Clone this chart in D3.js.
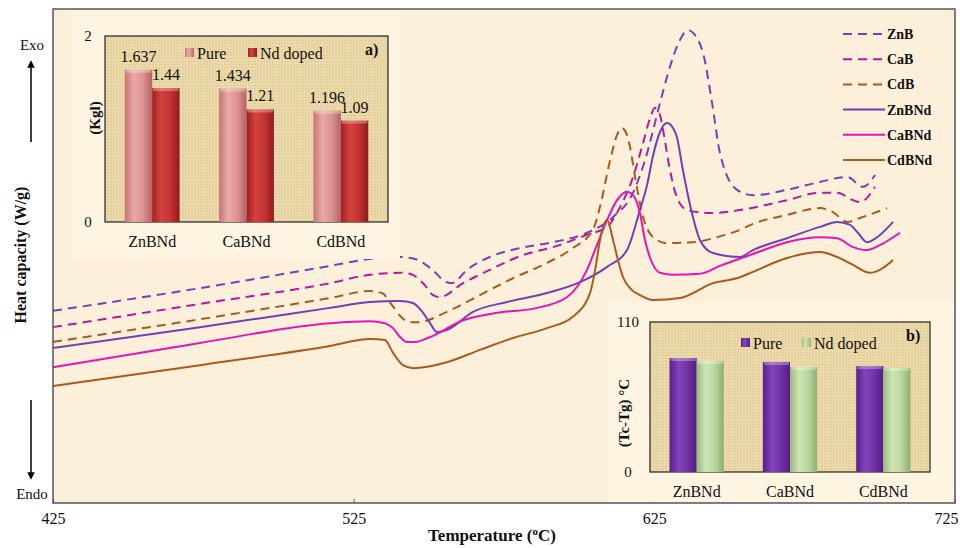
<!DOCTYPE html>
<html>
<head>
<meta charset="utf-8">
<script src="https://cdn.jsdelivr.net/npm/d3@7"></script>
<style>
	body { margin: 0; background: #fff; }
	text { font-family: "Liberation Serif", "Times New Roman", serif; fill: #111; }
</style>
</head>
<body>
<div id="chart"></div>
<script>
// DSC curves: [temperature (C), heat capacity (arb.)]
const znB = [[425,3.89],[473.9,4.35],[517.1,4.80],[530.4,4.94],[540.4,4.98],[545.4,4.94],[550.4,4.76],[556.0,4.47],[557.7,4.45],[562.7,4.72],[570.3,4.98],[580.3,5.16],[591.3,5.28],[602.6,5.47],[611.3,5.79],[617.9,6.28],[621.9,6.94],[626.9,8.10],[630.2,8.83],[633.5,9.37],[636.2,9.57],[639.2,9.41],[641.2,9.11],[644.2,8.10],[646.8,7.09],[652.5,6.34],[657.8,6.23],[669.1,6.34],[680.1,6.50],[689.1,6.60],[694.4,6.40],[698.4,6.64]];
const caB = [[425,3.56],[473.9,4.03],[517.1,4.45],[530.4,4.62],[540.4,4.66],[543.7,4.64],[548.1,4.45],[551.4,4.21],[553.7,4.17],[561.4,4.45],[570.3,4.72],[581.3,5.02],[591.3,5.18],[602.6,5.43],[609.3,5.59],[613.6,5.99],[617.6,6.54],[620.9,7.21],[623.6,7.79],[625.2,8.00],[626.9,7.85],[627.9,7.55],[630.2,6.74],[632.5,6.19],[635.9,5.93],[643.5,5.87],[653.5,5.93],[669.1,6.13],[680.1,6.28],[685.8,6.28],[691.1,6.13],[693.4,6.09],[698.4,6.40]];
const cdB = [[425,3.26],[473.9,3.72],[517.1,4.15],[530.4,4.29],[534.4,4.25],[537.7,4.01],[540.4,3.79],[543.7,3.66],[546.4,3.66],[556.0,3.87],[567.0,4.21],[578.0,4.55],[589.3,4.86],[597.9,5.16],[604.6,5.53],[606.9,5.99],[610.3,6.94],[612.6,7.45],[614.2,7.59],[615.9,7.45],[616.9,7.21],[618.6,6.60],[620.9,5.87],[624.6,5.38],[629.2,5.26],[637.9,5.28],[645.8,5.38],[653.5,5.53],[657.8,5.65],[669.1,5.83],[680.1,5.97],[684.4,5.89],[689.1,5.69],[693.4,5.77],[702.4,5.97]];
const znBNd = [[425,3.14],[473.9,3.56],[517.1,3.95],[530.4,4.07],[540.4,4.09],[544.7,4.05],[548.1,3.85],[550.4,3.64],[552.7,3.46],[556.0,3.50],[564.7,3.87],[576.0,4.07],[589.3,4.25],[600.3,4.47],[609.3,4.78],[615.9,5.12],[620.2,5.93],[622.6,6.44],[624.6,7.04],[626.9,7.51],[629.2,7.69],[631.2,7.59],[632.5,7.41],[634.5,6.74],[637.5,5.87],[640.2,5.32],[644.5,5.06],[653.5,4.98],[657.8,5.12],[669.1,5.36],[680.1,5.59],[685.8,5.69],[690.1,5.63],[692.7,5.47],[695.7,5.28],[699.1,5.38],[704.4,5.69]];
const caBNd = [[425,2.75],[473.9,3.24],[517.1,3.64],[530.4,3.68],[535.4,3.64],[538.1,3.54],[540.4,3.36],[542.7,3.26],[545.4,3.26],[550.4,3.36],[561.4,3.70],[572.7,3.85],[586.0,3.95],[596.0,4.17],[602.6,4.72],[605.9,5.22],[609.3,5.73],[612.6,6.13],[615.9,6.30],[618.6,6.17],[620.2,5.87],[621.9,5.32],[623.6,4.96],[626.9,4.66],[631.2,4.62],[640.2,4.64],[646.8,4.80],[657.8,5.04],[669.1,5.28],[680.1,5.38],[685.8,5.36],[691.1,5.18],[695.7,5.12],[700.0,5.22],[706.7,5.47]];
const cdBNd = [[425,2.37],[473.9,2.79],[517.1,3.18],[530.4,3.32],[535.4,3.30],[538.1,3.04],[541.4,2.79],[544.7,2.73],[556.0,2.85],[567.0,3.10],[578.0,3.34],[589.3,3.54],[597.9,3.77],[603.6,4.25],[605.6,4.82],[606.9,5.32],[609.3,5.73],[611.3,5.32],[612.9,4.92],[614.6,4.57],[617.6,4.31],[620.2,4.21],[624.6,4.11],[633.5,4.15],[644.5,4.45],[653.5,4.57],[657.8,4.68],[669.1,4.96],[680.1,5.08],[685.8,4.98],[691.1,4.82],[696.7,4.66],[700.0,4.72],[704.4,4.92]];

const tempTicks = [425, 525, 625, 725];

// inset bar charts
const glassCats = ["ZnBNd", "CaBNd", "CdBNd"];
const barKeys = ["Pure", "Nd doped"];
const kglPure = [1.637, 1.434, 1.196];
const kglDoped = [1.44, 1.21, 1.09];
const kglTicks = [0, 2];
const dtPure = [83.6, 80.7, 77.7];
const dtDoped = [81.4, 77.0, 76.3];
const dtTicks = [0, 110];

const series = [
	{ name: "ZnB", data: znB, color: "#7a3fb8", dash: "9,6" },
	{ name: "CaB", data: caB, color: "#b8189e", dash: "9,6" },
	{ name: "CdB", data: cdB, color: "#a9591c", dash: "9,6" },
	{ name: "ZnBNd", data: znBNd, color: "#7040b4", dash: null },
	{ name: "CaBNd", data: caBNd, color: "#e414b8", dash: null },
	{ name: "CdBNd", data: cdBNd, color: "#ab5a1c", dash: null }
];

const width = 979, height = 548;
const plot = { left: 53, top: 9, right: 955, bottom: 503 };

const svg = d3.select("#chart").append("svg")
	.attr("width", width)
	.attr("height", height);

const defs = svg.append("defs");

// burlap-ish texture for the inset plot areas
const pat = defs.append("pattern")
	.attr("id", "burlap")
	.attr("width", 6).attr("height", 6)
	.attr("patternUnits", "userSpaceOnUse");
pat.append("rect").attr("width", 6).attr("height", 6).attr("fill", "#e9d6a5");
pat.append("path").attr("d", "M0,1.5H6M0,4.5H6").attr("stroke", "#d9c08a").attr("stroke-width", 0.8).attr("opacity", 0.6);
pat.append("path").attr("d", "M1.5,0V6M4.5,0V6").attr("stroke", "#f3e4bd").attr("stroke-width", 0.8).attr("opacity", 0.6);

// cylinder-like bar gradients
function barGradient(id, stops) {
	const g = defs.append("linearGradient").attr("id", id)
		.attr("x1", 0).attr("x2", 1).attr("y1", 0).attr("y2", 0);
	stops.forEach((c, i) => {
		g.append("stop").attr("offset", (i / (stops.length - 1) * 100) + "%").attr("stop-color", c);
	});
}
barGradient("g-pink", ["#c67474", "#e9a9a8", "#dc9291", "#b46464"]);
barGradient("g-red", ["#a11f1f", "#d44242", "#c43232", "#8e1c1c"]);
barGradient("g-purple", ["#571e8a", "#8444bd", "#7232a6", "#541d84"]);
barGradient("g-green", ["#97b97b", "#cfe5b8", "#b9d69d", "#8ead70"]);

defs.append("marker")
	.attr("id", "arrow")
	.attr("viewBox", "0 0 10 10")
	.attr("refX", 5).attr("refY", 5)
	.attr("markerWidth", 5).attr("markerHeight", 5)
	.attr("orient", "auto")
	.append("path").attr("d", "M0,0L10,5L0,10z").attr("fill", "#000");

// Scales
const x = d3.scaleLinear().domain([425, 725]).range([plot.left, plot.right]);
const y = d3.scaleLinear().domain([0, 10]).range([plot.bottom, plot.top]);

// Main plot background
svg.append("rect")
	.attr("x", plot.left).attr("y", plot.top)
	.attr("width", plot.right - plot.left).attr("height", plot.bottom - plot.top)
	.attr("fill", "#fcf0da");

// Curves
const line = d3.line()
	.x(d => x(d[0]))
	.y(d => y(d[1]))
	.curve(d3.curveMonotoneX);

svg.append("g").selectAll("path")
	.data(series)
	.enter().append("path")
	.attr("d", d => line(d.data))
	.attr("fill", "none")
	.attr("stroke", d => d.color)
	.attr("stroke-width", 2)
	.attr("stroke-dasharray", d => d.dash);

// Frame
svg.append("rect")
	.attr("x", plot.left).attr("y", plot.top)
	.attr("width", plot.right - plot.left).attr("height", plot.bottom - plot.top)
	.attr("fill", "none")
	.attr("stroke", "#555")
	.attr("stroke-width", 1.5);

// X axis
const xAxis = svg.append("g")
	.attr("transform", "translate(0," + plot.bottom + ")")
	.call(d3.axisBottom(x).tickValues(tempTicks).tickSizeInner(-4).tickSizeOuter(0).tickPadding(10));
xAxis.select(".domain").remove();
xAxis.selectAll(".tick line").attr("stroke", "#555");
xAxis.selectAll(".tick text")
	.attr("font-size", 16)
	.attr("font-family", "Liberation Serif")
	.attr("fill", "#111");
xAxis.selectAll(".tick").filter(d => d === 725).select("text")
	.attr("text-anchor", "end").attr("x", 3);

const xTitle = svg.append("text")
	.attr("x", 492).attr("y", 541)
	.attr("text-anchor", "middle")
	.attr("font-size", 17)
	.attr("font-weight", "bold");
xTitle.append("tspan").text("Temperature (");
xTitle.append("tspan").text("o").attr("font-size", 11).attr("dy", -6);
xTitle.append("tspan").text("C)").attr("dy", 6);

// Y axis title + Exo / Endo arrows
svg.append("text")
	.attr("transform", "translate(26,255) rotate(-90)")
	.attr("text-anchor", "middle")
	.attr("font-size", 16)
	.attr("font-weight", "bold")
	.text("Heat capacity (W/g)");

svg.append("text").attr("x", 32).attr("y", 50).attr("text-anchor", "middle")
	.attr("font-size", 15).text("Exo");
svg.append("line")
	.attr("x1", 31).attr("y1", 142).attr("x2", 31).attr("y2", 64)
	.attr("stroke", "#000").attr("stroke-width", 1.5)
	.attr("marker-end", "url(#arrow)");
svg.append("text").attr("x", 32).attr("y", 499).attr("text-anchor", "middle")
	.attr("font-size", 15).text("Endo");
svg.append("line")
	.attr("x1", 31).attr("y1", 400).attr("x2", 31).attr("y2", 476)
	.attr("stroke", "#000").attr("stroke-width", 1.5)
	.attr("marker-end", "url(#arrow)");

// Main legend
const legend = svg.append("g");
const legY = d3.scalePoint().domain(series.map(s => s.name)).range([34, 160]);
series.forEach(s => {
	legend.append("line")
		.attr("x1", 843).attr("x2", 885)
		.attr("y1", legY(s.name)).attr("y2", legY(s.name))
		.attr("stroke", s.color).attr("stroke-width", 2)
		.attr("stroke-dasharray", s.dash ? "9,6" : null);
	legend.append("text")
		.attr("x", 887).attr("y", legY(s.name))
		.attr("dy", "0.35em")
		.attr("font-size", 14)
		.attr("font-weight", "bold")
		.text(s.name);
});

// Inset bar chart
function drawInset(cfg) {
	const g = svg.append("g");

	g.append("rect")
		.attr("x", cfg.panel[0]).attr("y", cfg.panel[1])
		.attr("width", cfg.panel[2]).attr("height", cfg.panel[3])
		.attr("fill", "#fdf4e1");

	const x0 = d3.scaleBand().domain(glassCats).range([cfg.x0, cfg.x1]);
	const x1 = d3.scaleBand().domain(barKeys).range([0, x0.bandwidth()]).paddingOuter(0.72);
	const yb = d3.scaleLinear().domain([0, cfg.ticks[1]]).range([cfg.y1, cfg.y0]);

	g.append("rect")
		.attr("x", cfg.x0).attr("y", cfg.y0)
		.attr("width", cfg.x1 - cfg.x0).attr("height", cfg.y1 - cfg.y0)
		.attr("fill", "url(#burlap)")
		.attr("stroke", "#222").attr("stroke-width", 1.2);

	const rows = glassCats.map((c, i) => ({ cat: c, vals: [cfg.pure[i], cfg.doped[i]] }));

	const grp = g.selectAll(".grp")
		.data(rows)
		.enter().append("g")
		.attr("transform", d => "translate(" + x0(d.cat) + ",0)");

	const bar = grp.selectAll(".bar")
		.data(d => d.vals.map((v, j) => ({ key: barKeys[j], v: v })))
		.enter().append("g");

	bar.append("rect")
		.attr("x", d => x1(d.key))
		.attr("y", d => yb(d.v))
		.attr("width", x1.bandwidth())
		.attr("height", d => yb(0) - yb(d.v))
		.attr("fill", (d, j) => j === 0 ? cfg.fills[0] : cfg.fills[1]);

	bar.append("rect")
		.attr("x", d => x1(d.key) + 1)
		.attr("y", d => yb(d.v))
		.attr("width", x1.bandwidth() - 2)
		.attr("height", 3)
		.attr("fill", "#fff").attr("opacity", 0.3);

	if (cfg.labels) {
		bar.append("text")
			.attr("x", d => x1(d.key) + x1.bandwidth() / 2)
			.attr("y", d => yb(d.v) - 8)
			.attr("text-anchor", "middle")
			.attr("font-size", 16)
			.text(d => String(d.v));
	}

	// value ticks (0 and max)
	cfg.ticks.forEach(t => {
		g.append("text")
			.attr("x", cfg.tickX).attr("y", yb(t))
			.attr("dy", "0.35em")
			.attr("text-anchor", "middle")
			.attr("font-size", 15)
			.text(t);
	});

	glassCats.forEach(c => {
		g.append("text")
			.attr("x", x0(c) + x0.bandwidth() / 2)
			.attr("y", cfg.y1 + 25)
			.attr("text-anchor", "middle")
			.attr("font-size", 16)
			.text(c);
	});

	g.append("text")
		.attr("transform", "translate(" + cfg.titlePos[0] + "," + cfg.titlePos[1] + ") rotate(-90)")
		.attr("text-anchor", "middle")
		.attr("dy", "0.35em")
		.attr("font-size", 15)
		.attr("font-weight", "bold")
		.text(cfg.title);

	// legend
	cfg.legend.forEach((l, j) => {
		g.append("rect")
			.attr("x", l[0]).attr("y", cfg.legY - 5)
			.attr("width", 9).attr("height", 9)
			.attr("fill", cfg.fills[j]);
		g.append("text")
			.attr("x", l[0] + 12).attr("y", cfg.legY)
			.attr("dy", "0.35em")
			.attr("font-size", 16)
			.text(barKeys[j]);
	});

	g.append("text")
		.attr("x", cfg.tag[0]).attr("y", cfg.tag[1])
		.attr("dy", "0.35em")
		.attr("font-size", 16)
		.attr("font-weight", "bold")
		.text(cfg.tagText);
}

drawInset({
	panel: [73, 11, 327, 248],
	x0: 105, x1: 388, y0: 36, y1: 222,
	ticks: kglTicks, pure: kglPure, doped: kglDoped,
	fills: ["url(#g-pink)", "url(#g-red)"],
	labels: true, tickX: 88,
	title: "(Kgl)", titlePos: [95, 118],
	legend: [[185], [248]], legY: 53,
	tag: [365, 49], tagText: "a)"
});

drawInset({
	panel: [608, 302, 346, 200],
	x0: 650, x1: 930, y0: 322, y1: 472,
	ticks: dtTicks, pure: dtPure, doped: dtDoped,
	fills: ["url(#g-purple)", "url(#g-green)"],
	labels: false, tickX: 628,
	title: "(Tc-Tg) \u00b0C", titlePos: [624, 413],
	legend: [[741], [802]], legY: 343,
	tag: [906, 335], tagText: "b)"
});
</script>
</body>
</html>
